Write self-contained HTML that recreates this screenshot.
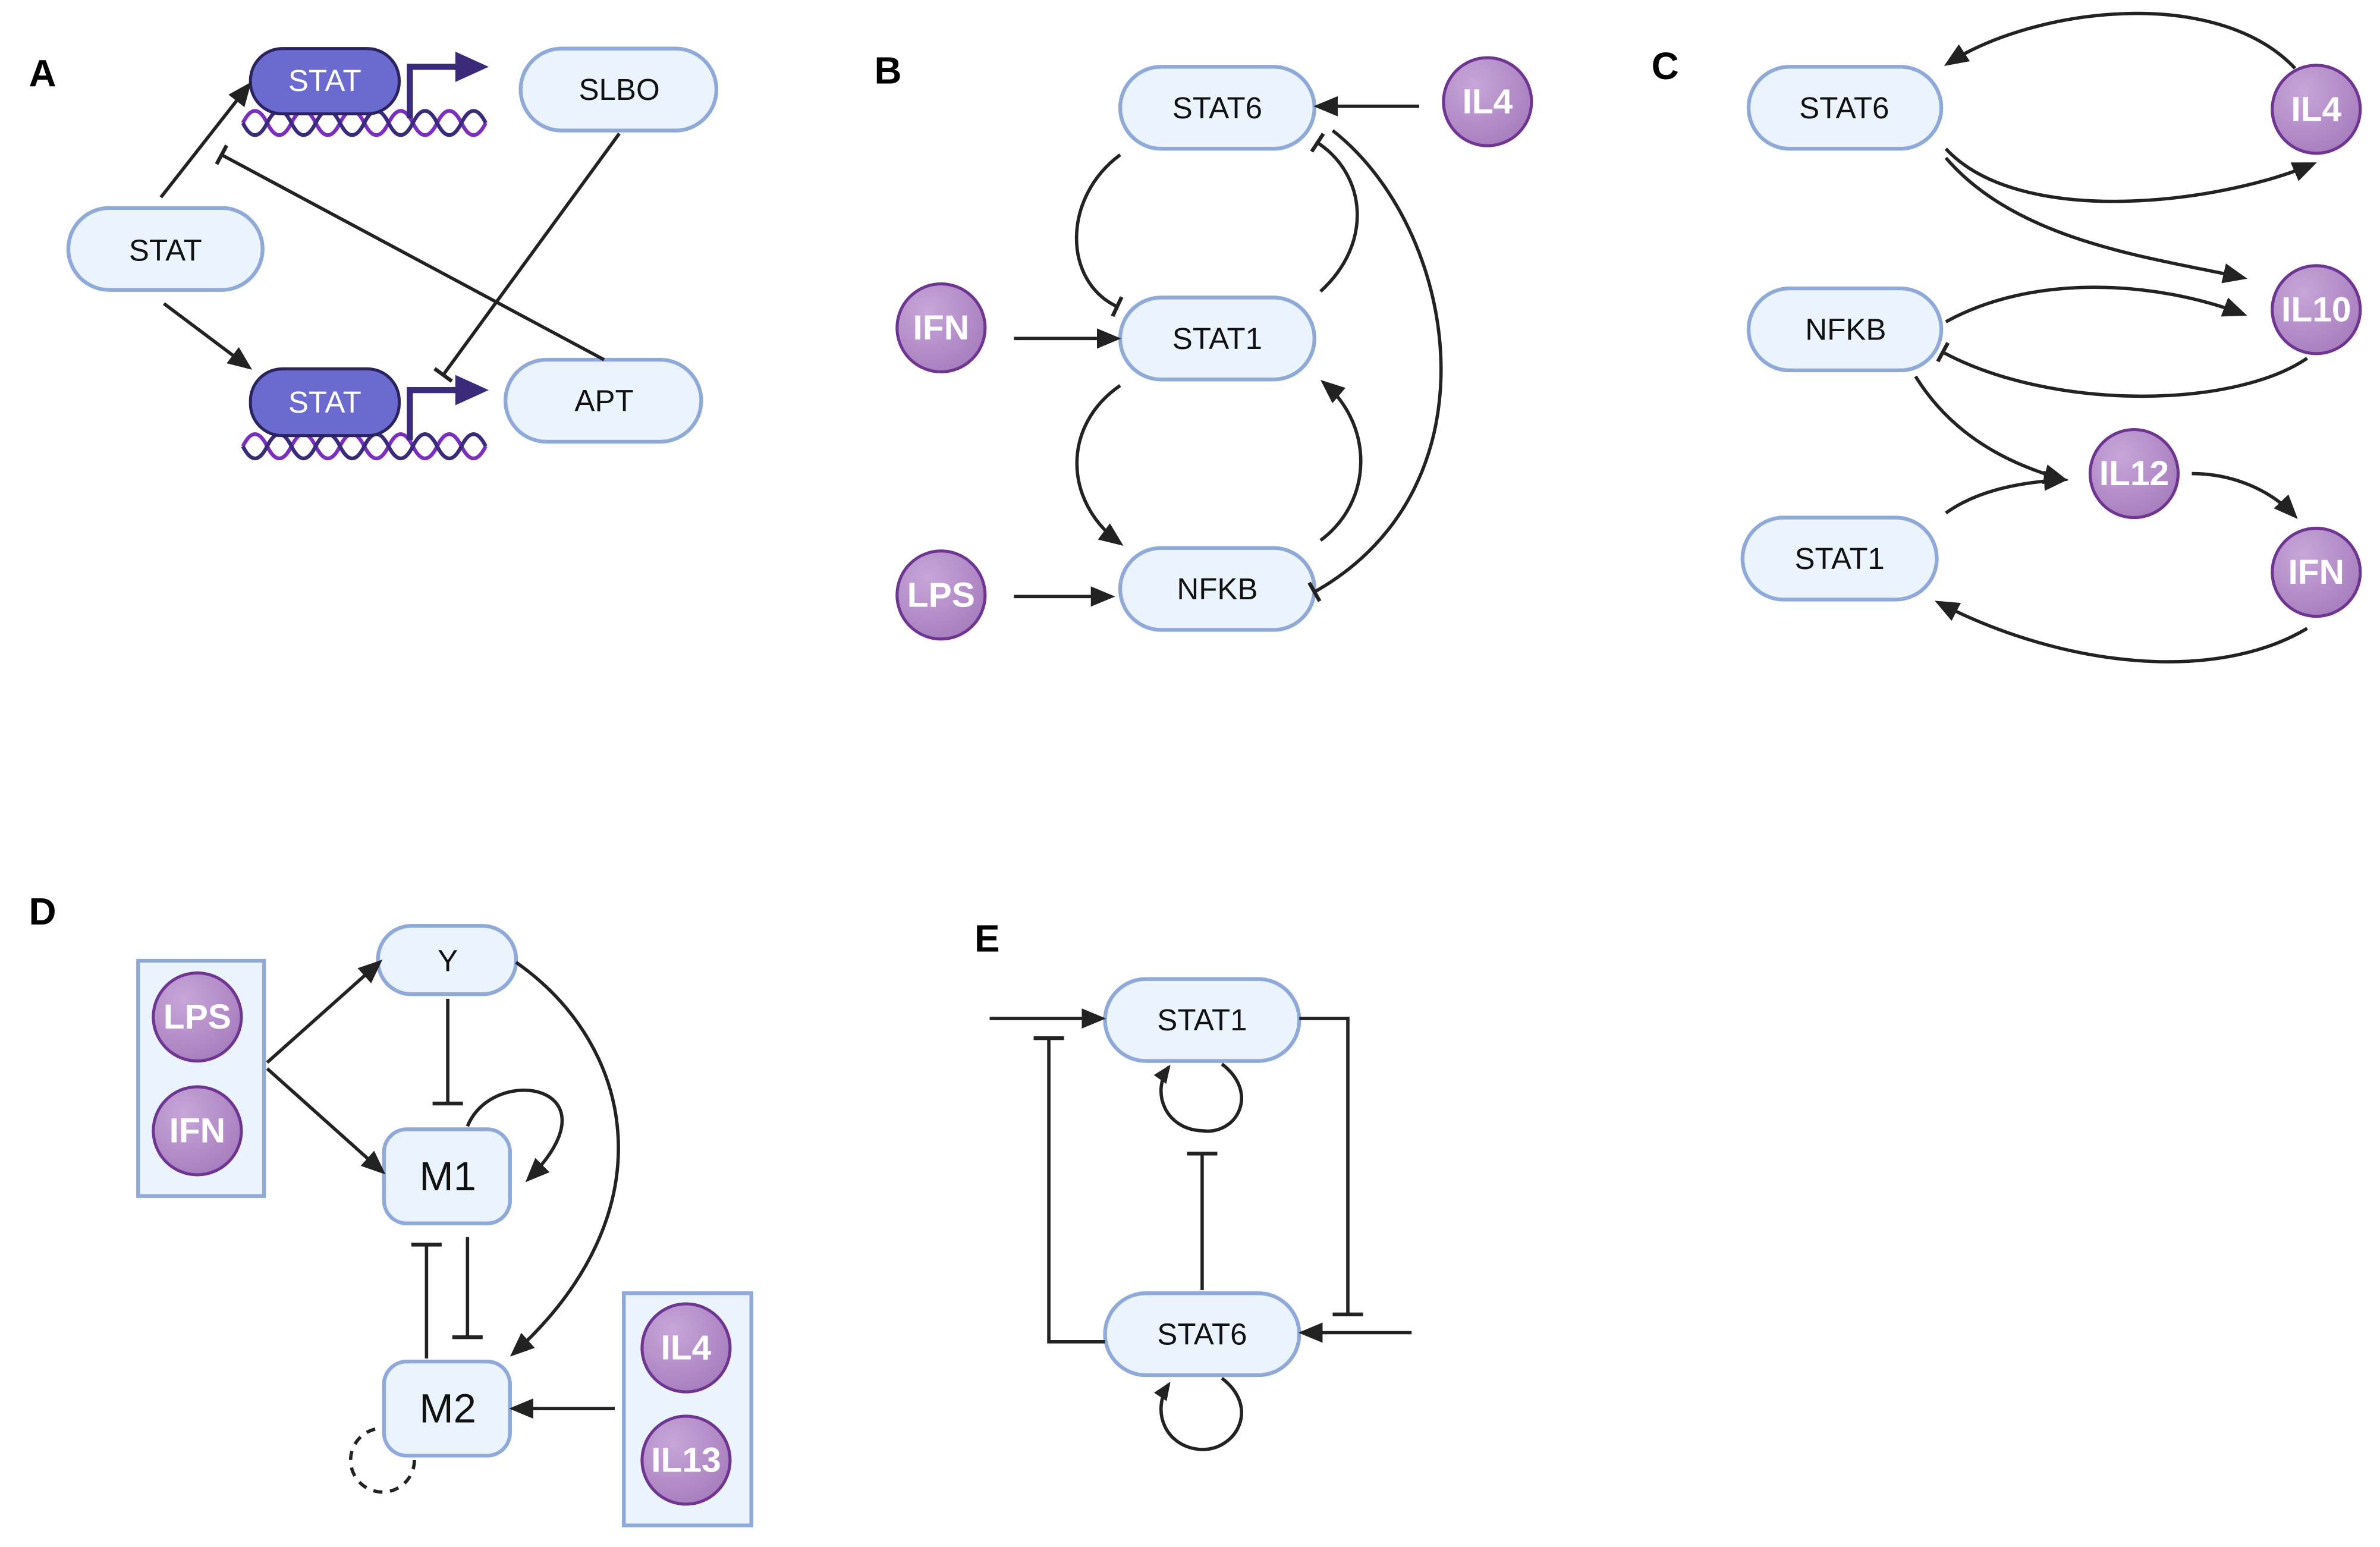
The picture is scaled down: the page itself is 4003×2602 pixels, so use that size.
<!DOCTYPE html>
<html><head><meta charset="utf-8"><style>
html,body{margin:0;padding:0;background:#fff;}
svg{display:block;}
text{font-family:"Liberation Sans",sans-serif;}
</style></head><body>
<svg width="4003" height="2602" viewBox="0 0 1568 1019.2" xmlns="http://www.w3.org/2000/svg">
<defs>
<marker id="ar" viewBox="0 0 12 12" refX="10" refY="6" markerWidth="12" markerHeight="12" markerUnits="userSpaceOnUse" orient="auto"><path d="M0,1 L12,6 L0,11 Z" fill="#222"/></marker>
<marker id="ar2" viewBox="0 0 12 12" refX="10" refY="6" markerWidth="16" markerHeight="16" markerUnits="userSpaceOnUse" orient="auto"><path d="M0,1 L12,6 L0,11 Z" fill="#222"/></marker>
<marker id="bar" viewBox="-2 -8 4 16" refX="0" refY="0" markerWidth="4" markerHeight="16" markerUnits="userSpaceOnUse" orient="auto"><path d="M0,-7 L0,7" stroke="#222" stroke-width="2.5"/></marker>
<marker id="bar2" viewBox="-2 -11 4 22" refX="0" refY="0" markerWidth="4" markerHeight="22" markerUnits="userSpaceOnUse" orient="auto"><path d="M0,-10 L0,10" stroke="#222" stroke-width="2.5"/></marker>
<radialGradient id="cg" cx="0.35" cy="0.3" r="0.8"><stop offset="0" stop-color="#c7a6d8"/><stop offset="1" stop-color="#a57bbd"/></radialGradient>
</defs>
<style>
.n{fill:#ebf3fd;stroke:#8fa9d8;stroke-width:2.5;}
.t{font-size:20px;fill:#111;text-anchor:middle;dominant-baseline:central;}
.c{fill:url(#cg);stroke:#6e3591;stroke-width:2;}
.ct{font-size:23px;font-weight:bold;fill:#fff;text-anchor:middle;dominant-baseline:central;}
.l{stroke:#222;stroke-width:2.2;fill:none;}
.L{font-size:25px;font-weight:bold;fill:#000;}
.dk{fill:#6b6bcf;stroke:#2b2360;stroke-width:2;}
.dna{stroke:#7a2fc0;stroke-width:2.5;fill:none;}
.dna2{stroke:#3a2a7a;stroke-width:2.5;fill:none;}
</style>

<!-- Panel A -->
<text class="L" x="19" y="57">A</text>
<path class="dna" d="M160,81 q8,-16 16,0 t16,0 t16,0 t16,0 t16,0 t16,0 t16,0 t16,0 t16,0 t16,0"/>
<path class="dna2" d="M160,81 q8,16 16,0 t16,0 t16,0 t16,0 t16,0 t16,0 t16,0 t16,0 t16,0 t16,0"/>
<rect class="dk" x="165" y="32" width="98" height="43" rx="21"/>
<text class="t" x="214" y="53" style="fill:#fff">STAT</text>
<path d="M270,78 V44 H302" stroke="#3a2a7a" stroke-width="4" fill="none"/><path d="M300,34 L322,44 L300,54Z" fill="#3a2a7a"/>
<path class="dna" d="M160,294 q8,-16 16,0 t16,0 t16,0 t16,0 t16,0 t16,0 t16,0 t16,0 t16,0 t16,0"/>
<path class="dna2" d="M160,294 q8,16 16,0 t16,0 t16,0 t16,0 t16,0 t16,0 t16,0 t16,0 t16,0 t16,0"/>
<rect class="dk" x="165" y="243" width="98" height="44" rx="21"/>
<text class="t" x="214" y="265" style="fill:#fff">STAT</text>
<path d="M270,290 V257 H302" stroke="#3a2a7a" stroke-width="4" fill="none"/><path d="M300,247 L322,257 L300,267Z" fill="#3a2a7a"/>
<rect class="n" x="343" y="32" width="129" height="54" rx="27"/><text class="t" x="408" y="59">SLBO</text>
<rect class="n" x="45" y="137" width="128" height="54" rx="27"/><text class="t" x="109" y="165">STAT</text>
<rect class="n" x="333" y="237" width="129" height="54" rx="27"/><text class="t" x="398" y="264">APT</text>
<path class="l" d="M106,130 L164,56" marker-end="url(#ar2)"/>
<path class="l" d="M108,200 L164,242" marker-end="url(#ar2)"/>
<path class="l" d="M398,237 L146,102" marker-end="url(#bar)"/>
<path class="l" d="M408,88 L292,247" marker-end="url(#bar)"/>

<!-- Panel B -->
<text class="L" x="576" y="55">B</text>
<rect class="n" x="738" y="44" width="128" height="54" rx="27"/><text class="t" x="802" y="71">STAT6</text>
<rect class="n" x="738" y="196" width="128" height="54" rx="27"/><text class="t" x="802" y="223">STAT1</text>
<rect class="n" x="738" y="361" width="128" height="54" rx="27"/><text class="t" x="802" y="388">NFKB</text>
<circle class="c" cx="980" cy="67" r="29"/><text class="ct" x="980" y="67">IL4</text>
<circle class="c" cx="620" cy="216" r="29"/><text class="ct" x="620" y="216">IFN</text>
<circle class="c" cx="620" cy="392" r="29"/><text class="ct" x="620" y="392">LPS</text>
<path class="l" d="M935,70 L868,70" marker-end="url(#ar2)"/>
<path class="l" d="M668,223 L736,223" marker-end="url(#ar2)"/>
<path class="l" d="M668,393 L732,393" marker-end="url(#ar2)"/>
<path class="l" d="M738,102 C700,130 700,185 736,202" marker-end="url(#bar)"/>
<path class="l" d="M870,192 C905,160 900,115 868,94" marker-end="url(#bar)"/>
<path class="l" d="M738,254 C700,280 700,330 738,358" marker-end="url(#ar2)"/>
<path class="l" d="M870,356 C905,330 905,280 872,252" marker-end="url(#ar2)"/>
<path class="l" d="M878,86 C960,150 990,320 866,390" marker-end="url(#bar)"/>

<!-- Panel C -->
<text class="L" x="1088" y="52">C</text>
<rect class="n" x="1152" y="44" width="127" height="54" rx="27"/><text class="t" x="1215" y="71">STAT6</text>
<rect class="n" x="1152" y="190" width="127" height="54" rx="27"/><text class="t" x="1216" y="217">NFKB</text>
<rect class="n" x="1148" y="341" width="128" height="54" rx="27"/><text class="t" x="1212" y="368">STAT1</text>
<circle class="c" cx="1526" cy="72" r="29"/><text class="ct" x="1526" y="72">IL4</text>
<circle class="c" cx="1526" cy="204" r="29"/><text class="ct" x="1526" y="204">IL10</text>
<circle class="c" cx="1406" cy="312" r="29"/><text class="ct" x="1406" y="312">IL12</text>
<circle class="c" cx="1526" cy="377" r="29"/><text class="ct" x="1526" y="377">IFN</text>
<path class="l" d="M1512,45 C1460,-10 1340,5 1283,42" marker-end="url(#ar2)"/>
<path class="l" d="M1282,98 C1330,150 1460,135 1524,108" marker-end="url(#ar2)"/>
<path class="l" d="M1282,104 C1330,160 1420,170 1478,183" marker-end="url(#ar2)"/>
<path class="l" d="M1282,212 C1340,180 1420,185 1478,207" marker-end="url(#ar2)"/>
<path class="l" d="M1520,236 C1470,270 1350,270 1280,232" marker-end="url(#bar)" stroke-width="3"/>
<path class="l" d="M1262,248 C1285,285 1320,305 1360,316" marker-end="url(#ar2)"/>
<path class="l" d="M1282,338 C1300,325 1325,318 1360,316" marker-end="url(#ar2)"/>
<path class="l" d="M1444,312 C1470,312 1495,322 1512,340" marker-end="url(#ar2)"/>
<path class="l" d="M1520,414 C1460,450 1360,440 1277,397" marker-end="url(#ar2)"/>

<!-- Panel D -->
<text class="L" x="19" y="609">D</text>
<rect class="n" x="91" y="633" width="83" height="155"/>
<circle class="c" cx="130" cy="670" r="29"/><text class="ct" x="130" y="670">LPS</text>
<circle class="c" cx="130" cy="745" r="29"/><text class="ct" x="130" y="745">IFN</text>
<circle cx="252" cy="962" r="21" fill="none" stroke="#222" stroke-width="2.2" stroke-dasharray="6,5"/>
<rect class="n" x="249" y="610" width="91" height="45" rx="22"/><text class="t" x="295" y="633">Y</text>
<rect class="n" x="253" y="744" width="83" height="62" rx="15"/><text class="t" x="295" y="775" style="font-size:27px">M1</text>
<rect class="n" x="253" y="897" width="83" height="62" rx="15"/><text class="t" x="295" y="928" style="font-size:27px">M2</text>
<rect class="n" x="411" y="852" width="84" height="153"/>
<circle class="c" cx="452" cy="888" r="29"/><text class="ct" x="452" y="888">IL4</text>
<circle class="c" cx="452" cy="962" r="29"/><text class="ct" x="452" y="962">IL13</text>
<path class="l" d="M176,700 L250,634" marker-end="url(#ar2)"/>
<path class="l" d="M176,704 L252,772" marker-end="url(#ar2)"/>
<path class="l" d="M295,658 L295,727" marker-end="url(#bar2)"/>
<path class="l" d="M308,742 C325,700 410,715 348,777" marker-end="url(#ar2)" stroke-width="1.6"/>
<path class="l" d="M340,634 C420,690 440,800 338,892" marker-end="url(#ar2)"/>
<path class="l" d="M281,895 L281,820" marker-end="url(#bar2)"/>
<path class="l" d="M308,815 L308,881" marker-end="url(#bar2)"/>
<path class="l" d="M405,928 L338,928" marker-end="url(#ar2)"/>

<!-- Panel E -->
<text class="L" x="642" y="627">E</text>
<rect class="n" x="728" y="645" width="128" height="54" rx="27"/><text class="t" x="792" y="672">STAT1</text>
<rect class="n" x="728" y="852" width="128" height="54" rx="27"/><text class="t" x="792" y="879">STAT6</text>
<path class="l" d="M652,671 L726,671" marker-end="url(#ar2)"/>
<path class="l" d="M856,671 L888,671 L888,866" marker-end="url(#bar2)"/>
<path class="l" d="M728,884 L691,884 L691,684" marker-end="url(#bar2)"/>
<path class="l" d="M930,878 L858,878" marker-end="url(#ar2)"/>
<path class="l" d="M792,850 L792,760" marker-end="url(#bar2)"/>
<path class="l" d="M805,701 C830,720 815,748 792,745 C768,744 758,720 770,703" marker-end="url(#ar)" stroke-width="1.8"/>
<path class="l" d="M805,908 C830,927 815,955 792,955 C768,954 758,930 770,912" marker-end="url(#ar)" stroke-width="1.8"/>
</svg>
</body></html>
